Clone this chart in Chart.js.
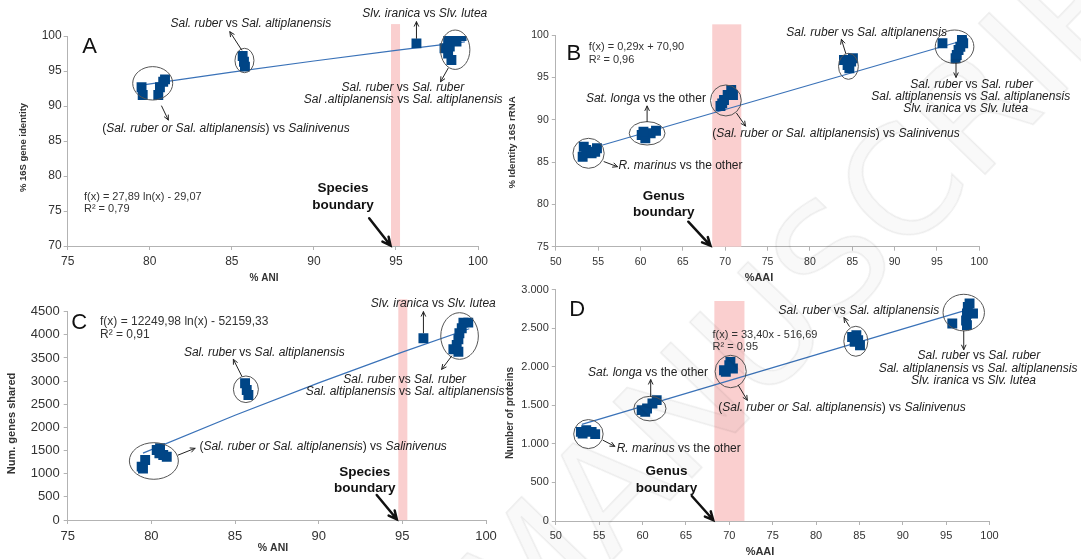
<!DOCTYPE html>
<html>
<head>
<meta charset="utf-8">
<title>16S / ANI / AAI comparisons</title>
<script src="https://cdn.jsdelivr.net/npm/chart.js@4.4.1/dist/chart.umd.min.js"></script>
<style>
  body { margin: 0; background: #fff; }
  #page { position: relative; width: 1081px; height: 559px; overflow: hidden; background: #fff; }
  #page canvas { position: absolute; }
  #wm {
    position: absolute; left: 825px; top: 265px;
    transform: translate(-50%, -50%) rotate(-46deg);
    font: 150px "DejaVu Sans", sans-serif; white-space: nowrap;
    color: rgba(0, 0, 0, 0.025); -webkit-text-stroke: 1.5px rgba(0, 0, 0, 0.07);
    pointer-events: none;
  }
</style>
</head>
<body>
<div id="page">
  <canvas id="chartA" width="520" height="290" style="left:0;top:0"></canvas>
  <canvas id="chartB" width="591" height="290" style="left:490px;top:0"></canvas>
  <canvas id="chartC" width="520" height="279" style="left:0;top:280px"></canvas>
  <canvas id="chartD" width="591" height="279" style="left:490px;top:280px"></canvas>
  <div id="wm">MANUSCRIPT</div>
</div>
<script>
// A: % 16S gene identity vs % ANI
var aniA = [79.50, 79.57, 80.52, 80.62, 80.82, 80.93, 85.66, 85.74, 85.80, 96.25, 98.18, 98.59, 99.00, 97.96, 98.18, 98.38, 98.28, 98.69];
var geneIdA = [92.67, 91.57, 91.57, 92.67, 93.47, 93.81, 97.14, 96.33, 95.62, 98.95, 99.43, 99.80, 100.0, 98.24, 97.50, 96.57, 98.50, 99.20];
var trendAniA = [79.5, 85, 90, 95, 99.2];
var trendIdA = [92.97, 94.84, 96.43, 97.94, 99.15];

// B: % identity 16S rRNA vs % AAI
var aaiB = [53.17, 53.59, 54.23, 54.86, 54.65, 53.30, 60.14, 60.57, 61.20, 61.83, 60.35, 69.44, 69.86, 70.29, 70.71, 70.92, 69.65, 84.02, 84.45, 84.87, 84.66, 85.08, 95.65, 97.95, 97.97, 98.10, 97.55, 97.34, 97.20, 97.76];
var rrnaB = [85.63, 86.42, 86.03, 86.62, 86.22, 86.81, 88.19, 87.80, 88.39, 88.70, 88.58, 91.62, 92.32, 92.91, 93.50, 92.91, 91.93, 97.05, 96.46, 96.85, 96.07, 97.25, 99.02, 99.80, 99.21, 99.02, 98.23, 97.64, 97.25, 98.62];
var trendAaiB = [53.5, 98];
var trendRrnaB = [86.42, 99.32];

// C: shared genes vs % ANI
var aniC = [79.42, 79.63, 79.50, 80.32, 80.52, 80.71, 80.92, 80.48, 85.60, 85.70, 85.80, 96.26, 98.94, 98.65, 98.55, 98.41, 98.35, 98.25, 98.05, 98.35];
var genesC = [1152, 1296, 1110, 1512, 1549, 1404, 1368, 1441, 2953, 2808, 2700, 3925, 4263, 4263, 4141, 4033, 3904, 3781, 3688, 3636];
var trendAniC = [79.5, 85, 90, 95, 99.0];
var trendGenesC = [1444, 2263, 2963, 3626, 4131];

// D: number of proteins vs % AAI
var aaiD = [52.89, 53.51, 54.13, 54.54, 53.09, 59.90, 60.52, 61.14, 61.63, 60.31, 69.39, 70.00, 70.42, 69.60, 70.13, 84.16, 84.65, 84.86, 85.07, 84.45, 95.71, 97.50, 97.40, 98.10, 97.30, 97.40, 97.70];
var protD = [1156, 1178, 1156, 1126, 1135, 1437, 1459, 1524, 1567, 1415, 1955, 2020, 1977, 1933, 2063, 2386, 2408, 2344, 2279, 2322, 2560, 2775, 2690, 2690, 2600, 2540, 2820];
var trendAaiD = [53, 98];
var trendProtD = [1253, 2757];

// tick labels
var aniTicks = [75, 80, 85, 90, 95, 100];
var aaiTicks = [50, 55, 60, 65, 70, 75, 80, 85, 90, 95, 100];
var idTicksA = [70, 75, 80, 85, 90, 95, 100];
var idTicksB = [75, 80, 85, 90, 95, 100];
var genesTicks = [0, 500, 1000, 1500, 2000, 2500, 3000, 3500, 4000, 4500];
var protTicks = [0, 500, 1000, 1500, 2000, 2500, 3000];

var FONT = '"Liberation Sans", Arial, sans-serif';
Chart.defaults.font.family = FONT;

// annotations, placed in data units of each panel
var NOTES = {
    chartA: {
        off: [0, 0],
        band: [94.7, 95.25, 101.7],
        letter: ['A', 76.33, 98.43],
        ellipses: [[80.18, 93.24, 20, 16.7], [85.77, 96.5, 9.5, 12.2], [98.61, 98.04, 14.7, 19.7]],
        arrows: [[85.6, 98.0, 84.88, 100.61], [96.25, 99.67, 96.25, 102.04], [98.18, 95.39, 97.72, 93.47], [80.72, 90.0, 81.13, 88.0]],
        labels: [
            [86.16, 101.76, 'center', '*Sal. ruber* vs *Sal. altiplanensis*'],
            [96.76, 103.14, 'center', '*Slv. iranica* vs *Slv. lutea*'],
            [95.42, 92.57, 'center', '*Sal. ruber* vs *Sal. ruber*'],
            [95.44, 90.93, 'center', '*Sal .altiplanensis* vs *Sal. altiplanensis*'],
            [84.64, 86.76, 'center', '(*Sal. ruber or Sal. altiplanensis*) vs *Salinivenus*']
        ],
        eq: [75.99, 77.04, 75.29, 'f(x) = 27,89 ln(x) - 29,07', 'R\u00b2 = 0,79', 11],
        boundary: [91.77, 78.29, 75.79, 'Species', 'boundary', 93.37, 73.96, 94.67, 70.07],
        titles: [['% 16S gene identity', 23, 147.5, true, 9.5], ['% ANI', 264, 278.5, false, 10]]
    },
    chartB: {
        off: [490, 0],
        band: [68.47, 71.9, 101.26],
        letter: ['B', 52.12, 97.76],
        ellipses: [[53.87, 86.03, 15.6, 15], [60.78, 88.39, 17.9, 11.7], [70.08, 92.27, 15.4, 15.5], [84.55, 96.3, 9.9, 13], [97.08, 98.62, 19.3, 16.7]],
        arrows: [[55.7, 85.04, 57.28, 84.45], [60.78, 89.76, 60.78, 91.61], [71.35, 90.75, 72.4, 89.25], [84.23, 97.84, 83.72, 99.49], [97.25, 96.66, 97.25, 95.0]],
        labels: [
            [57.4, 84.53, 'left', '*R. marinus* vs the other'],
            [60.64, 92.52, 'center', '*Sat. longa* vs the other'],
            [83.09, 88.39, 'center', '(*Sal. ruber or Sal. altiplanensis*) vs *Salinivenus*'],
            [86.7, 100.26, 'center', '*Sal. ruber* vs *Sal. altiplanensis*'],
            [99.09, 94.18, 'center', '*Sal. ruber* vs *Sal. ruber*'],
            [98.99, 92.71, 'center', '*Sal. altiplanensis* vs *Sal. altiplanensis*'],
            [98.39, 91.3, 'center', '*Slv. iranica* vs *Slv. lutea*']
        ],
        eq: [53.89, 98.58, 97.05, 'f(x) = 0,29x + 70,90', 'R\u00b2 = 0,96', 11],
        boundary: [62.74, 81.01, 79.04, 'Genus', 'boundary', 65.64, 77.95, 68.26, 75.12],
        titles: [['% Identity 16S rRNA', 512, 142.5, true, 9.6], ['%AAI', 759, 277.5, false, 11]]
    },
    chartC: {
        off: [0, 280],
        band: [94.76, 95.3, 4768],
        letter: ['C', 75.69, 4249],
        ellipses: [[80.15, 1275, 24.5, 18.3], [85.65, 2824, 12.5, 13.3], [98.42, 3975, 18.8, 23.3]],
        arrows: [[81.61, 1404, 82.61, 1549], [85.4, 3111, 84.9, 3471], [96.26, 4046, 96.26, 4500], [97.95, 3543, 97.35, 3255]],
        labels: [
            [82.87, 1583, 'left', '(*Sal. ruber or Sal. altiplanensis*) vs *Salinivenus*'],
            [86.75, 3618, 'center', '*Sal. ruber* vs *Sal. altiplanensis*'],
            [96.85, 4681, 'center', '*Slv. iranica* vs *Slv. lutea*'],
            [95.14, 3042, 'center', '*Sal. ruber* vs *Sal. ruber*'],
            [95.16, 2780, 'center', '*Sal. altiplanensis* vs *Sal. altiplanensis*']
        ],
        eq: [76.93, 4284, 3997, 'f(x) = 12249,98 ln(x) - 52159,33', 'R\u00b2 = 0,91', 12],
        boundary: [92.75, 1026, 685, 'Species', 'boundary', 93.47, 540, 94.67, 15],
        titles: [['Num. genes shared', 12, 423.5, true, 11], ['% ANI', 273, 548, false, 10.5]]
    },
    chartD: {
        off: [490, 280],
        band: [68.28, 71.75, 2852],
        letter: ['D', 52.48, 2742],
        ellipses: [[70.16, 1938, 15.6, 16.2], [60.85, 1457, 16.1, 12.3], [53.76, 1127, 14.7, 14.5], [84.59, 2330, 12, 15], [97.03, 2702, 20.7, 18.3]],
        arrows: [[71.04, 1759, 72.08, 1565], [60.94, 1617, 60.94, 1833], [55.45, 1046, 56.8, 968], [83.84, 2524, 83.22, 2637], [97.03, 2463, 97.03, 2222]],
        labels: [
            [83.0, 1472, 'center', '(*Sal. ruber or Sal. altiplanensis*) vs *Salinivenus*'],
            [60.63, 1918, 'center', '*Sat. longa* vs the other'],
            [57.02, 942, 'left', '*R. marinus* vs the other'],
            [84.94, 2725, 'center', '*Sal. ruber* vs *Sal. altiplanensis*'],
            [98.78, 2144, 'center', '*Sal. ruber* vs *Sal. ruber*'],
            [98.68, 1976, 'center', '*Sal. altiplanensis* vs *Sal. altiplanensis*'],
            [98.16, 1818, 'center', '*Slv. iranica* vs *Slv. lutea*']
        ],
        eq: [68.07, 2417, 2250, 'f(x) = 33,40x - 516,69', 'R\u00b2 = 0,95', 11],
        boundary: [62.76, 647, 430, 'Genus', 'boundary', 65.68, 324, 68.15, 13],
        titles: [['Number of proteins', 510, 413, true, 10], ['%AAI', 760, 551.5, false, 11]]
    }
};

function pairs(xs, ys) {
    return xs.map(function (x, i) { return { x: x, y: ys[i] }; });
}

// text with *italic* parts
function drawRich(ctx, str, x, y, align, size, color) {
    var segs = [];
    var total = 0;
    str.split('*').forEach(function (p, i) {
        if (!p) return;
        var f = (i % 2 ? 'italic ' : '') + size + 'px ' + FONT;
        ctx.font = f;
        var w = ctx.measureText(p).width;
        segs.push({ t: p, f: f, w: w });
        total += w;
    });
    var cx = align === 'center' ? x - total / 2 : (align === 'right' ? x - total : x);
    ctx.fillStyle = color;
    ctx.textAlign = 'left';
    ctx.textBaseline = 'middle';
    segs.forEach(function (s) {
        ctx.font = s.f;
        ctx.fillText(s.t, cx, y);
        cx += s.w;
    });
}

function drawArrow(ctx, x1, y1, x2, y2, width, head, color) {
    var ang = Math.atan2(y2 - y1, x2 - x1);
    ctx.strokeStyle = color;
    ctx.lineWidth = width;
    ctx.lineCap = 'round';
    ctx.lineJoin = 'miter';
    ctx.beginPath();
    ctx.moveTo(x1, y1);
    ctx.lineTo(x2, y2);
    ctx.moveTo(x2 - head * Math.cos(ang - 0.45), y2 - head * Math.sin(ang - 0.45));
    ctx.lineTo(x2, y2);
    ctx.lineTo(x2 - head * Math.cos(ang + 0.45), y2 - head * Math.sin(ang + 0.45));
    ctx.stroke();
}

var notesPlugin = {
    id: 'notes',
    beforeDatasetsDraw: function (chart) {
        var n = NOTES[chart.canvas.id];
        var ctx = chart.ctx, sx = chart.scales.x, sy = chart.scales.y;
        var l = sx.getPixelForValue(n.band[0]);
        var r = sx.getPixelForValue(n.band[1]);
        var t = sy.getPixelForValue(n.band[2]);
        ctx.save();
        ctx.fillStyle = '#facfcf';
        ctx.fillRect(l, t, r - l, chart.chartArea.bottom - t);
        ctx.restore();
    },
    afterDatasetsDraw: function (chart) {
        var n = NOTES[chart.canvas.id];
        var ctx = chart.ctx, sx = chart.scales.x, sy = chart.scales.y;
        function px(v) { return sx.getPixelForValue(v); }
        function py(v) { return sy.getPixelForValue(v); }
        ctx.save();

        ctx.strokeStyle = '#555';
        ctx.lineWidth = 1;
        n.ellipses.forEach(function (e) {
            ctx.beginPath();
            ctx.ellipse(px(e[0]), py(e[1]), e[2], e[3], 0, 0, Math.PI * 2);
            ctx.stroke();
        });
        n.arrows.forEach(function (a) {
            drawArrow(ctx, px(a[0]), py(a[1]), px(a[2]), py(a[3]), 1, 5, '#222');
        });
        n.labels.forEach(function (lb) {
            drawRich(ctx, lb[3], px(lb[0]), py(lb[1]), lb[2], 12, '#222');
        });

        var eq = n.eq;
        ctx.fillStyle = '#333';
        ctx.font = eq[5] + 'px ' + FONT;
        ctx.textAlign = 'left';
        ctx.textBaseline = 'middle';
        ctx.fillText(eq[3], px(eq[0]), py(eq[1]));
        ctx.fillText(eq[4], px(eq[0]), py(eq[2]));

        ctx.fillStyle = '#111';
        ctx.font = '22px ' + FONT;
        ctx.textAlign = 'center';
        ctx.fillText(n.letter[0], px(n.letter[1]), py(n.letter[2]));

        var b = n.boundary;
        ctx.font = 'bold 13.5px ' + FONT;
        ctx.fillText(b[3], px(b[0]), py(b[1]));
        ctx.fillText(b[4], px(b[0]), py(b[2]));
        drawArrow(ctx, px(b[5]), py(b[6]), px(b[7]), py(b[8]), 2.5, 9, '#111');

        n.titles.forEach(function (t) {
            ctx.save();
            ctx.translate(t[1] - n.off[0], t[2] - n.off[1]);
            if (t[3]) ctx.rotate(-Math.PI / 2);
            ctx.font = 'bold ' + t[4] + 'px ' + FONT;
            ctx.fillStyle = '#333';
            ctx.textAlign = 'center';
            ctx.textBaseline = 'middle';
            ctx.fillText(t[0], 0, 0);
            ctx.restore();
        });
        ctx.restore();
    }
};

function thousands(v) {
    if (v < 1000) return String(v);
    return Math.floor(v / 1000) + '.' + ('00' + (v % 1000)).slice(-3);
}

function makeChart(id, pts, trend, xTicks, yTicks, lay) {
    var axisGrid = { drawOnChartArea: false, drawTicks: true, tickLength: 4, color: '#b3b3b3' };
    return new Chart(document.getElementById(id), {
        type: 'scatter',
        data: {
            datasets: [{
                data: pts,
                pointStyle: 'rect',
                pointRadius: 7,
                pointHoverRadius: 7,
                backgroundColor: '#004586',
                borderWidth: 0
            }, {
                type: 'line',
                data: trend,
                borderColor: '#3a72b8',
                borderWidth: 1.2,
                pointRadius: 0,
                fill: false,
                tension: 0
            }]
        },
        options: {
            responsive: false,
            animation: false,
            devicePixelRatio: 1,
            events: [],
            layout: { padding: { left: 0, top: lay.top, right: lay.right, bottom: 0 } },
            plugins: { legend: { display: false }, tooltip: { enabled: false } },
            scales: {
                x: {
                    type: 'linear',
                    min: xTicks[0],
                    max: xTicks[xTicks.length - 1],
                    afterBuildTicks: function (s) { s.ticks = xTicks.map(function (v) { return { value: v }; }); },
                    ticks: { autoSkip: false, maxRotation: 0, color: '#333', padding: lay.xPad, font: { size: lay.font } },
                    grid: axisGrid,
                    border: { color: '#b3b3b3' },
                    afterFit: function (s) { s.height = lay.xH; }
                },
                y: {
                    type: 'linear',
                    min: yTicks[0],
                    max: yTicks[yTicks.length - 1],
                    afterBuildTicks: function (s) { s.ticks = yTicks.map(function (v) { return { value: v }; }); },
                    ticks: {
                        autoSkip: false, color: '#333', padding: lay.yPad, font: { size: lay.font },
                        callback: lay.dots ? function (v) { return thousands(v); } : function (v) { return String(v); }
                    },
                    grid: axisGrid,
                    border: { color: '#b3b3b3' },
                    afterFit: function (s) { s.width = lay.yW; }
                }
            }
        },
        plugins: [notesPlugin]
    });
}

makeChart('chartA', pairs(aniA, geneIdA), pairs(trendAniA, trendIdA), aniTicks, idTicksA,
    { top: 36, right: 42, yW: 67.7, xH: 44, font: 12, xPad: 4, yPad: 2 });
makeChart('chartB', pairs(aaiB, rrnaB), pairs(trendAaiB, trendRrnaB), aaiTicks, idTicksB,
    { top: 35, right: 101.7, yW: 65.8, xH: 43.3, font: 10.5, xPad: 5, yPad: 3 });
makeChart('chartC', pairs(aniC, genesC), pairs(trendAniC, trendGenesC), aniTicks, genesTicks,
    { top: 31.7, right: 34, yW: 67.7, xH: 39, font: 13, xPad: 5, yPad: 4 });
makeChart('chartD', pairs(aaiD, protD), pairs(trendAaiD, trendProtD), aaiTicks, protTicks,
    { top: 9.3, right: 91.5, yW: 65.8, xH: 38, font: 11, xPad: 4, yPad: 3, dots: true });
</script>
</body>
</html>
